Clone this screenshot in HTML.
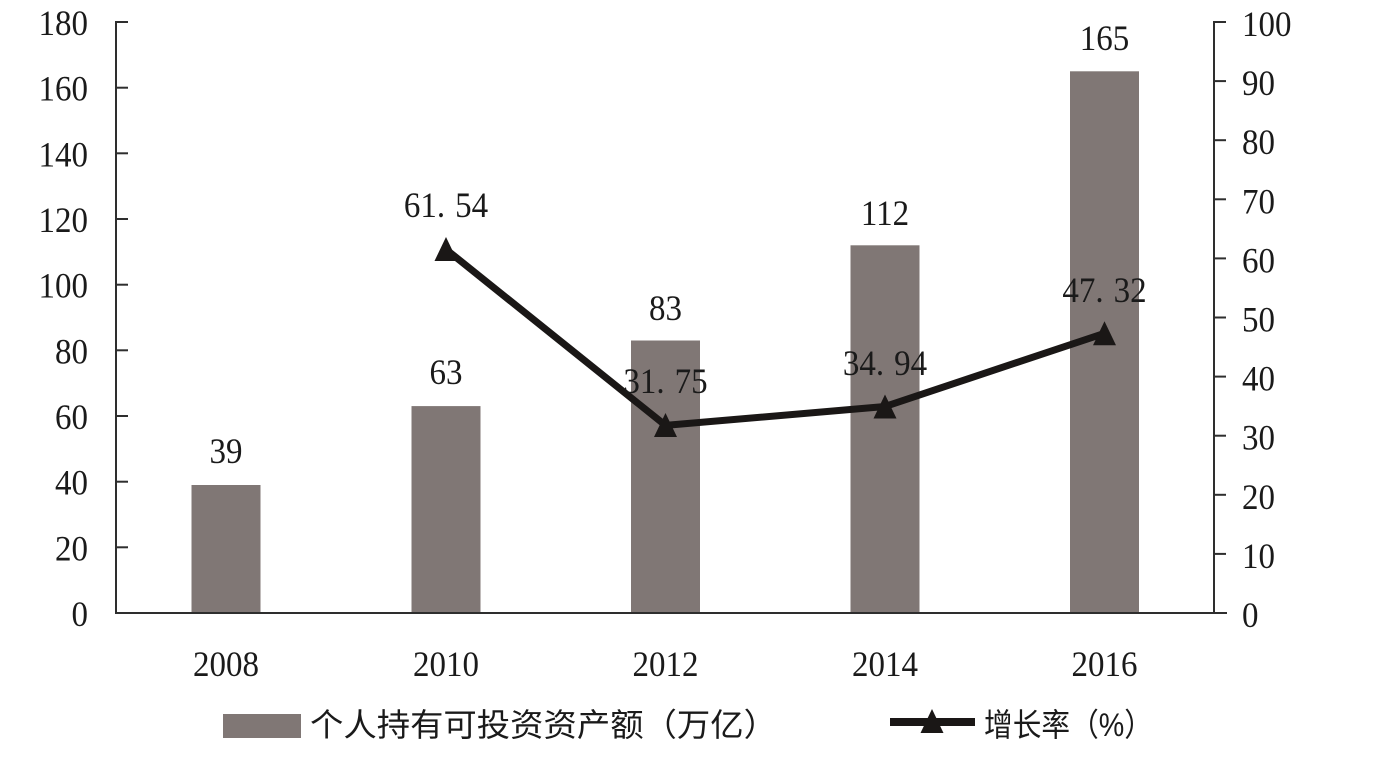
<!DOCTYPE html>
<html><head><meta charset="utf-8"><style>
html,body{margin:0;padding:0;background:#fff;}
svg{display:block;}
.n{font-family:"Liberation Serif",serif;font-size:33px;fill:#1a1a1a;}
.c{font-family:"Liberation Sans","Noto Sans CJK SC",sans-serif;font-size:32px;fill:#1a1a1a;}
</style></head><body>
<svg width="1391" height="760" viewBox="0 0 1391 760" xmlns="http://www.w3.org/2000/svg">
<rect width="1391" height="760" fill="#fff"/>
<!-- bars -->
<g fill="#807775">
<rect x="191.5" y="485" width="69" height="128"/>
<rect x="411.5" y="406.1" width="69" height="206.9"/>
<rect x="631" y="340.5" width="69" height="272.5"/>
<rect x="850.5" y="245.3" width="69" height="367.7"/>
<rect x="1070" y="71.3" width="69" height="541.7"/>
</g>
<!-- axes -->
<g stroke="#2e2e2e" stroke-width="2" fill="none">
<line x1="116" y1="21" x2="116" y2="614"/>
<line x1="115" y1="613" x2="1227" y2="613"/>
<line x1="1214" y1="21" x2="1214" y2="614"/>
<!-- left ticks -->
<line x1="116" y1="547.3" x2="128" y2="547.3"/>
<line x1="116" y1="481.7" x2="128" y2="481.7"/>
<line x1="116" y1="416" x2="128" y2="416"/>
<line x1="116" y1="350.3" x2="128" y2="350.3"/>
<line x1="116" y1="284.7" x2="128" y2="284.7"/>
<line x1="116" y1="219" x2="128" y2="219"/>
<line x1="116" y1="153.3" x2="128" y2="153.3"/>
<line x1="116" y1="87.7" x2="128" y2="87.7"/>
<line x1="116" y1="22" x2="128" y2="22"/>
<!-- right ticks -->
<line x1="1214" y1="553.9" x2="1226" y2="553.9"/>
<line x1="1214" y1="494.8" x2="1226" y2="494.8"/>
<line x1="1214" y1="435.7" x2="1226" y2="435.7"/>
<line x1="1214" y1="376.6" x2="1226" y2="376.6"/>
<line x1="1214" y1="317.5" x2="1226" y2="317.5"/>
<line x1="1214" y1="258.4" x2="1226" y2="258.4"/>
<line x1="1214" y1="199.3" x2="1226" y2="199.3"/>
<line x1="1214" y1="140.2" x2="1226" y2="140.2"/>
<line x1="1214" y1="81.1" x2="1226" y2="81.1"/>
<line x1="1214" y1="22" x2="1226" y2="22"/>
</g>
<!-- left labels -->
<g class="n" text-anchor="end">
<text transform="translate(88,626) scale(1,1.08)">0</text>
<text transform="translate(88,560.3) scale(1,1.08)">20</text>
<text transform="translate(88,494.7) scale(1,1.08)">40</text>
<text transform="translate(88,429) scale(1,1.08)">60</text>
<text transform="translate(88,363.3) scale(1,1.08)">80</text>
<text transform="translate(88,297.7) scale(1,1.08)">100</text>
<text transform="translate(88,232) scale(1,1.08)">120</text>
<text transform="translate(88,166.3) scale(1,1.08)">140</text>
<text transform="translate(88,100.7) scale(1,1.08)">160</text>
<text transform="translate(88,35) scale(1,1.08)">180</text>
</g>
<!-- right labels -->
<g class="n" text-anchor="start">
<text transform="translate(1242,627) scale(1,1.08)">0</text>
<text transform="translate(1242,567.9) scale(1,1.08)">10</text>
<text transform="translate(1242,508.8) scale(1,1.08)">20</text>
<text transform="translate(1242,449.7) scale(1,1.08)">30</text>
<text transform="translate(1242,390.6) scale(1,1.08)">40</text>
<text transform="translate(1242,331.5) scale(1,1.08)">50</text>
<text transform="translate(1242,272.4) scale(1,1.08)">60</text>
<text transform="translate(1242,213.3) scale(1,1.08)">70</text>
<text transform="translate(1242,154.2) scale(1,1.08)">80</text>
<text transform="translate(1242,95.1) scale(1,1.08)">90</text>
<text transform="translate(1242,36) scale(1,1.08)">100</text>
</g>
<!-- x labels -->
<g class="n" text-anchor="middle">
<text transform="translate(226,676) scale(1,1.08)">2008</text>
<text transform="translate(446,676) scale(1,1.08)">2010</text>
<text transform="translate(665.5,676) scale(1,1.08)">2012</text>
<text transform="translate(885,676) scale(1,1.08)">2014</text>
<text transform="translate(1104.5,676) scale(1,1.08)">2016</text>
</g>
<!-- bar value labels -->
<g class="n" text-anchor="middle">
<text transform="translate(226,463) scale(1,1.08)">39</text>
<text transform="translate(446,384) scale(1,1.08)">63</text>
<text transform="translate(665.5,320) scale(1,1.08)">83</text>
<text transform="translate(885,225) scale(1,1.08)">112</text>
<text transform="translate(1104.5,50) scale(1,1.08)">165</text>
</g>
<!-- line -->
<polyline points="446,249.3 665.5,425.4 885,406.5 1104.5,333.3" fill="none" stroke="#1a1716" stroke-width="7" stroke-linejoin="round"/>
<g fill="#1a1716">
<polygon points="446,237 434.5,261 457.5,261"/>
<polygon points="665.5,413 654,437 677,437"/>
<polygon points="885,394.5 873.5,418.5 896.5,418.5"/>
<polygon points="1104.5,321.3 1093,345.3 1116,345.3"/>
</g>
<!-- line value labels -->
<g class="n" text-anchor="middle">
<text transform="translate(446,217) scale(1,1.08)">61.<tspan dx="10">54</tspan></text>
<text transform="translate(665.5,393) scale(1,1.08)">31.<tspan dx="10">75</tspan></text>
<text transform="translate(885,375) scale(1,1.08)">34.<tspan dx="10">94</tspan></text>
<text transform="translate(1104.5,302) scale(1,1.08)">47.<tspan dx="10">32</tspan></text>
</g>
<!-- legend -->
<rect x="223" y="714" width="78" height="24" fill="#807775"/>
<text class="c" x="310" y="736" textLength="467" lengthAdjust="spacingAndGlyphs">个人持有可投资资产额（万亿）</text>
<line x1="890" y1="722" x2="975" y2="722" stroke="#1a1716" stroke-width="8"/>
<polygon points="932,709 920.5,733 943.5,733" fill="#1a1716"/>
<text class="c" x="984" y="736" textLength="169" lengthAdjust="spacingAndGlyphs">增长率（%）</text>
</svg>
</body></html>
